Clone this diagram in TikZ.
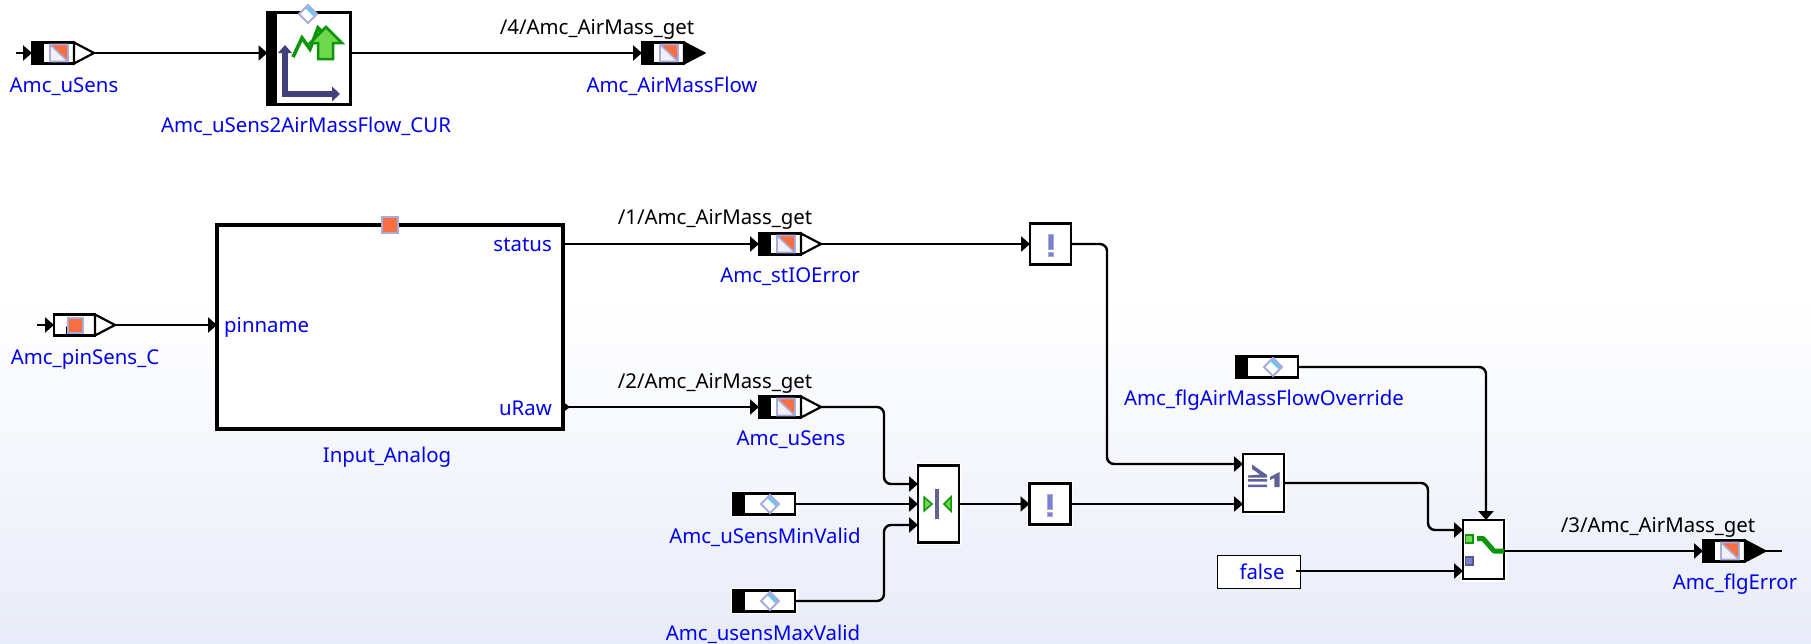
\documentclass[tikz,border=0pt]{standalone}
\usepackage{fontspec}
\setmainfont{Noto Sans}
\usetikzlibrary{arrows.meta,calc}
\definecolor{lav}{HTML}{A9ABDC}
\definecolor{lavdark}{HTML}{7B7FCF}
\definecolor{slate}{HTML}{43417C}
\definecolor{iconslate}{HTML}{5F6198}
\definecolor{orng}{HTML}{FB6E42}
\definecolor{icefill}{HTML}{EFF0FA}
\definecolor{skyb}{HTML}{6CC4F0}
\definecolor{grn}{HTML}{0A950A}
\definecolor{lgrn}{HTML}{70D84C}
\definecolor{bgend}{HTML}{E8ECF8}
\definecolor{lblue}{HTML}{0000F0}
\tikzset{
  halo/.style={preaction={draw=white,line width=5pt}},
  bodybox/.style={draw=black,fill=white,line width=2.2pt,inner sep=0pt,outer sep=0pt,halo},
  wire/.style={draw=black,line width=2.4pt,rounded corners=7pt,-{Triangle[length=9pt,width=15pt]}},
  plainwire/.style={draw=black,line width=2.4pt},
  lbl/.style={text=lblue,font=\fontsize{20.4}{24}\selectfont,inner sep=0pt},
  sig/.style={text=black,font=\fontsize{20.4}{24}\selectfont,inner sep=0pt},
}
% message block: name, left x, centre y, tip fill
\newcommand{\msgblock}[4]{%
  \node[bodybox,minimum width=42pt,minimum height=21pt] (#1) at (#2+21,#3) {};
  \fill[black] (#2,#3-10.5) rectangle (#2+12,#3+10.5);
  \draw[line width=2.2pt,line join=miter,fill=#4] (#2+42,#3-10.5) -- (#2+62,#3) -- (#2+42,#3+10.5) -- cycle;
  \coordinate (#1-out) at (#2+62,#3);
  \fill[icefill] (#2+18,#3-8.5) rectangle (#2+36,#3+8.5);
  \fill[orng] (#2+18,#3-8.5) -- (#2+36,#3-8.5) -- (#2+36,#3+8.5) -- cycle;
  \draw[lav,line width=1.6pt] (#2+18,#3-8.5) rectangle (#2+36,#3+8.5) (#2+18,#3-8.5) -- (#2+36,#3+8.5);
}
% diamond parameter icon
\newcommand{\dmdicon}[2]{%
  \fill[white] (#1-9,#2) -- (#1,#2-9) -- (#1+9,#2) -- (#1,#2+9) -- cycle;
  \fill[skyb] (#1-3,#2-6) -- (#1,#2-8) -- (#1+8,#2) -- (#1+5,#2+2) -- cycle;
  \draw[lav,line width=2pt] (#1-9,#2) -- (#1,#2-9) -- (#1+9,#2) -- (#1,#2+9) -- cycle;
}
% parameter block: name, left x, centre y
\newcommand{\parblock}[3]{%
  \node[bodybox,minimum width=62pt,minimum height=21pt] (#1) at (#2+31,#3) {};
  \fill[black] (#2,#3-10.5) rectangle (#2+12,#3+10.5);
  \dmdicon{#2+37}{#3}
}
% not-block icon
\newcommand{\excl}[2]{%
  \draw[lav,fill=lavdark,line width=1pt] (#1-2.5,#2-10) rectangle (#1+2.5,#2+5);
  \draw[lav,fill=lavdark,line width=1pt] (#1-2.5,#2+8) rectangle (#1+2.5,#2+12);
}
\begin{document}
\begin{tikzpicture}[x=1pt,y=-1pt]
\useasboundingbox (0,0) rectangle (1811,643);
\fill[white] (0,0) rectangle (1811,300);
\shade[top color=white,bottom color=bgend] (0,300) rectangle (1811,643);

% ---- top row
\coordinate (startA) at (16,53);
\msgblock{mA}{32}{53}{white}
\node[draw=black,fill=white,line width=3pt,minimum width=83pt,minimum height=92pt,inner sep=0pt,outer sep=0pt,halo] (curve) at (309,58.5) {};
\fill[black] (267,13) rectangle (277,104);
\dmdicon{308}{14}
\draw[slate,line width=5.5pt] (285,50) -- (285,94) -- (332,94);
\fill[slate] (278,53) -- (285,45) -- (292,53) -- cycle;
\fill[slate] (332,86.5) -- (340,94) -- (332,101.5) -- cycle;
\draw[grn,line width=3.6pt,line join=miter] (293,57) -- (302,38) -- (310,49) -- (318,28) -- (323,33);
\draw[grn,fill=lgrn,line width=2.5pt,line join=miter] (326,27) -- (342,43) -- (333,43) -- (333,59) -- (318,59) -- (318,43) -- (310,43) -- cycle;
\msgblock{mB}{642}{53}{black}
\coordinate (curveIn) at (curve.west |- startA);
\coordinate (curveOut) at (curve.east |- startA);
\draw[wire] (startA) -- (mA.west);
\draw[wire] (mA-out) -- (curveIn);
\draw[wire] (curveOut) -- (mB.west);
\node[sig] (sigD) at (597,29) {/4/Amc\_AirMass\_get};
\node[lbl] (lA) at (64,87) {Amc\_uSens};
\node[lbl] (lC) at (306,126) {Amc\_uSens2AirMassFlow\_CUR};
\node[lbl] (lB) at (672,86) {Amc\_AirMassFlow};

% ---- pin
\coordinate (startP) at (37,325);
\node[bodybox,minimum width=41pt,minimum height=21pt] (pin) at (74.5,325) {};
\draw[line width=2.2pt,line join=miter,fill=white] (95,314.5) -- (115,325) -- (95,335.5) -- cycle;
\coordinate (pin-out) at (115,325);
\fill[black] (66,326) -- (72,335) -- (66,335) -- cycle;
\draw[lav,fill=orng,line width=1.5pt] (68,318) rectangle (83,333);
\draw[wire] (startP) -- (pin.west);
\node[lbl] (lP) at (85,359) {Amc\_pinSens\_C};

% ---- input analog
\node[draw=black,fill=white,line width=4pt,minimum width=346pt,minimum height=204pt,inner sep=0pt,outer sep=0pt] (ia) at (390,326.5) {};
\draw[lav,fill=orng,line width=1.5pt] (382,217) rectangle (398,233);
\coordinate (iaS) at (561,244);
\coordinate (iaU) at (561,407);
\fill[black] (564,402.5) -- (570,407) -- (564,411.5) -- cycle;
\draw[wire] (pin-out) -- (ia.west |- pin-out);
\node[lbl,anchor=west] (tPin) at (224,327) {pinname};
\node[lbl,anchor=east] (tSt) at (552,245) {status};
\node[lbl,anchor=east] (tUr) at (552,408) {uRaw};
\node[lbl] (lIA) at (387,457) {Input\_Analog};

% ---- messages 1,2
\msgblock{mS}{759}{244}{white}
\msgblock{mU}{759}{407}{white}
\draw[wire] (iaS) -- (mS.west);
\draw[wire] (iaU) -- (mU.west);
\node[sig] (sigA) at (715,219) {/1/Amc\_AirMass\_get};
\node[sig] (sigB) at (715,383) {/2/Amc\_AirMass\_get};
\node[lbl] (lS) at (790,277) {Amc\_stIOError};
\node[lbl] (lU) at (791,440) {Amc\_uSens};

% ---- not 1
\node[bodybox,minimum width=41pt,minimum height=41pt] (notA) at (1050.5,244) {};
\excl{1050.5}{244}
\draw[wire] (mS-out) -- (notA.west);

% ---- parameters
\parblock{pMin}{733}{504}
\parblock{pMax}{733}{601}
\parblock{pOv}{1236}{367}
\node[lbl] (lMin) at (765,537) {Amc\_uSensMinValid};
\node[lbl] (lMax) at (763,634) {Amc\_usensMaxValid};
\node[lbl] (lOv) at (1264,400) {Amc\_flgAirMassFlowOverride};

% ---- limiter
\node[bodybox,minimum width=41pt,minimum height=77pt] (lim) at (938.5,504) {};
\draw[iconslate,line width=4pt] (937,489) -- (937,519);
\draw[grn,fill=lgrn,line width=1.5pt,line join=miter] (924,497) -- (932,504) -- (924,511) -- cycle;
\draw[grn,fill=lgrn,line width=1.5pt,line join=miter] (951,497) -- (944,504) -- (951,511) -- cycle;
\coordinate (limA) at (918,484);
\coordinate (limC) at (918,525);
\coordinate (jogA) at (884,445);
\coordinate (jogB) at (884,563);
\draw[wire] (mU-out) -| (jogA) |- (limA);
\draw[wire] (pMin.east) -- (lim.west);
\draw[wire] (pMax.east) -| (jogB) |- (limC);

% ---- not 2
\node[bodybox,minimum width=41pt,minimum height=41pt] (notB) at (1050,504) {};
\excl{1050}{504}
\draw[wire] (lim.east) -- (notB.west);

% ---- or
\node[bodybox,minimum width=41pt,minimum height=58pt] (orb) at (1263.5,483) {};
\fill[iconslate] (1252,464.5) -- (1267,475) -- (1267,477.5) -- (1248,477.5) -- (1248,475.5) -- (1260,474.5) -- (1252,469) -- cycle;
\fill[iconslate] (1248,479) rectangle (1267,481.5) (1248,484.5) rectangle (1267,487);
\fill[iconslate] (1279.5,472) -- (1279.5,487) -- (1274.3,487) -- (1274.3,478) -- (1270,480) -- (1270,477) -- cycle;
\coordinate (orA) at (1243,464);
\coordinate (orB) at (1243,504);
\coordinate (jogC) at (1107,350);
\draw[wire] (notA.east) -| (jogC) |- (orA);
\draw[wire] (notB.east) -- (orB);

% ---- false
\node[draw=black,fill=white,line width=1pt,minimum width=83pt,minimum height=33pt,inner sep=0pt,outer sep=0pt,lbl] (fls) at (1258.5,571.5) {\hspace*{7pt}false};
\coordinate (flsOut) at (1296,571);

% ---- switch
\node[bodybox,minimum width=41pt,minimum height=59pt] (sw) at (1483.5,549.5) {};
\draw[grn,fill=lgrn,line width=1.5pt] (1465.5,535) rectangle (1473,543);
\draw[lavdark!70!black,fill=lavdark,line width=1.5pt] (1465.5,557) rectangle (1473,565);
\draw[grn,line width=5pt,line join=round] (1477,538.5) -- (1483,538.5) -- (1494,551) -- (1504,551);
\coordinate (swA) at (1463,530);
\coordinate (swB) at (1463,571);
\coordinate (swTop) at (1486,520);
\coordinate (jogD) at (1428,505);
\coordinate (swOut) at (1504,551);
\draw[wire] (orb.east) -| (jogD) |- (swA);
\draw[wire] (flsOut) -- (swB);
\draw[wire] (pOv.east) -| (swTop);

% ---- message 3
\msgblock{mE}{1703}{551}{black}
\coordinate (endE) at (1782,551);
\draw[wire] (swOut) -- (mE.west);
\draw[plainwire] (mE-out) -- (endE);
\node[sig] (sigC) at (1658,527) {/3/Amc\_AirMass\_get};
\node[lbl] (lE) at (1735,584) {Amc\_flgError};
\end{tikzpicture}
\end{document}
